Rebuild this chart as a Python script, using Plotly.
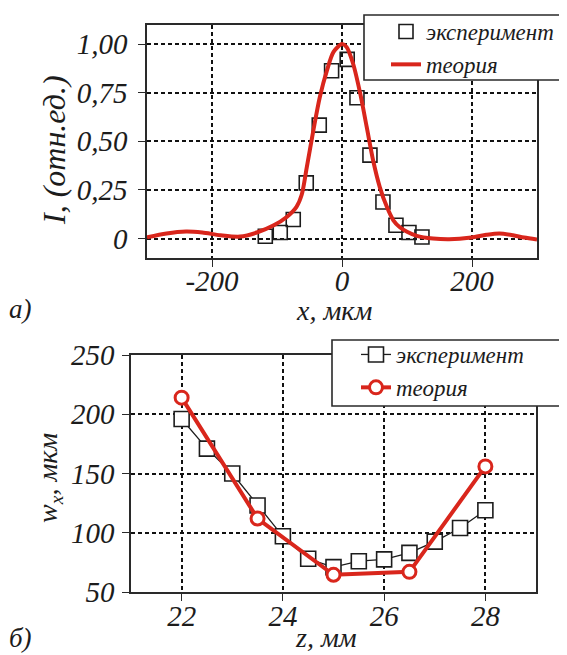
import plotly.graph_objects as go

# ---- panel a) data ----
x_exp = [-118, -95, -75, -55, -35, -16, 8, 23, 43, 63, 83, 103, 123]
i_exp = [0.012, 0.031, 0.098, 0.286, 0.583, 0.863, 0.921, 0.724, 0.429, 0.188, 0.068, 0.031, 0.008]

x_th = [-300, -270, -240, -215, -187, -157, -131, -105, -85, -70, -62, -54, -44, -34, -23,
        -13, 0, 7, 17, 28, 38, 48, 58, 69, 79, 89, 100, 115, 140, 165, 199, 222, 242, 263, 280, 300]
i_th = [0.006, 0.026, 0.036, 0.031, 0.017, 0.010, 0.031, 0.068, 0.111, 0.163, 0.225, 0.37, 0.557,
        0.729, 0.866, 0.96, 1.0, 0.985, 0.90, 0.746, 0.574, 0.40, 0.266, 0.163, 0.094, 0.058,
        0.035, 0.014, 0.0, -0.004, 0.005, 0.019, 0.026, 0.017, 0.005, -0.005]

# ---- panel б) data ----
z_exp = [22, 22.5, 23, 23.5, 24, 24.5, 25, 25.5, 26, 26.5, 27, 27.5, 28]
w_exp = [196, 171, 150, 123, 97, 78, 71, 76, 77.5, 83, 92.5, 104, 119]
z_th = [22, 23.5, 25, 26.5, 28]
w_th = [214, 112, 64.5, 67, 156]

xa_ticks = [-200, 0, 200]
xa_text = ["-200", "0", "200"]
ya_ticks = [0, 0.25, 0.5, 0.75, 1.0]
ya_text = ["0", "0,25", "0,50", "0,75", "1,00"]
xb_ticks = [22, 24, 26, 28]
xb_text = ["22", "24", "26", "28"]
yb_ticks = [50, 100, 150, 200, 250]
yb_text = ["50", "100", "150", "200", "250"]

RED = "#d9261c"
INK = "#1c1c1c"
SERIF = "Liberation Serif, Times New Roman, serif"
W, H = 567, 655
OFF = 8  # page body margin of the saved html


def px(v):
    return (v - OFF) / W


def py(v):
    return 1 - (v - OFF) / H


def ital(lst):
    return ["<i>%s</i>" % s for s in lst]


fig = go.Figure()

fig.add_trace(go.Scatter(
    x=x_exp, y=i_exp, mode="markers", name="эксперимент",
    marker=dict(symbol="square-open", size=14, color=INK, line=dict(width=1.6, color=INK)),
    xaxis="x", yaxis="y", legend="legend"))
fig.add_trace(go.Scatter(
    x=x_th, y=i_th, mode="lines", name="теория",
    line=dict(color=RED, width=4, shape="spline", smoothing=0.8),
    xaxis="x", yaxis="y", legend="legend"))

fig.add_trace(go.Scatter(
    x=z_exp, y=w_exp, mode="lines+markers", name="эксперимент",
    line=dict(color=INK, width=1.3),
    marker=dict(symbol="square", size=15, color="white", line=dict(width=1.6, color=INK)),
    xaxis="x2", yaxis="y2", legend="legend2"))
fig.add_trace(go.Scatter(
    x=z_th, y=w_th, mode="lines+markers", name="теория",
    line=dict(color=RED, width=4),
    marker=dict(symbol="circle", size=13, color="white", line=dict(width=3, color=RED)),
    xaxis="x2", yaxis="y2", legend="legend2"))

tickfont = dict(family=SERIF, size=29, color=INK, style="italic")
common = dict(showline=True, mirror=True, linecolor="#2a2a2a", linewidth=1.6,
              ticks="outside", ticklen=7, tickwidth=1.4, tickcolor="#2a2a2a",
              showgrid=True, gridcolor="#111111", gridwidth=1.5, griddash="4px,3px",
              zeroline=False, tickfont=tickfont, fixedrange=True, automargin=False)

fig.update_layout(
    width=W, height=H,
    margin=dict(l=0, r=0, t=0, b=0, pad=0, autoexpand=False),
    paper_bgcolor="white", plot_bgcolor="white",
    xaxis=dict(domain=[px(147), px(537)], range=[-300, 300], tickvals=xa_ticks,
               ticktext=ital(xa_text), anchor="y", ticklabelstandoff=-11, **common),
    yaxis=dict(domain=[py(258), py(24.6)], range=[-0.1, 1.1], tickvals=ya_ticks,
               ticktext=ital(ya_text), anchor="x", ticklabelstandoff=5, **common),
    xaxis2=dict(domain=[px(131), px(536)], range=[21, 29], tickvals=xb_ticks,
                ticktext=ital(xb_text), anchor="y2", ticklabelstandoff=-10, **common),
    yaxis2=dict(domain=[py(592), py(355)], range=[50, 250], tickvals=yb_ticks,
                ticktext=ital(yb_text), anchor="x2", ticklabelstandoff=2, **common),
    legend=dict(x=px(386), y=py(10), xanchor="left", yanchor="top",
                bgcolor="rgba(0,0,0,0)", borderwidth=0,
                font=dict(family=SERIF, size=23, color=INK, style="italic"),
                tracegroupgap=0),
    legend2=dict(x=px(356), y=py(333), xanchor="left", yanchor="top",
                 bgcolor="rgba(0,0,0,0)", borderwidth=0,
                 font=dict(family=SERIF, size=23, color=INK, style="italic"),
                 tracegroupgap=0),
    showlegend=True,
)

# legend frames
fig.add_shape(type="rect", xref="paper", yref="paper",
              x0=px(364), x1=px(580), y0=py(80), y1=py(15),
              line=dict(color="#2a2a2a", width=1.6), fillcolor="white", layer="above")
fig.add_shape(type="rect", xref="paper", yref="paper",
              x0=px(332), x1=px(580), y0=py(406), y1=py(340),
              line=dict(color="#2a2a2a", width=1.6), fillcolor="white", layer="above")

labfont = dict(family=SERIF, size=28, color=INK, style="italic")
anns = [
    dict(text="x, мкм", x=px(334), y=py(310)),
    dict(text="а)", x=px(20), y=py(309), size=27),
    dict(text="I, (отн.ед.)", x=px(54), y=py(150), textangle=-90, size=32),
    dict(text="z, мм", x=px(326), y=py(637)),
    dict(text="б)", x=px(20), y=py(638), size=27),
    dict(text="w<sub>x</sub>, мкм", x=px(49), y=py(478), textangle=-90, size=28),
]
for a in anns:
    f = dict(labfont)
    if "size" in a:
        f["size"] = a.pop("size")
    fig.add_annotation(xref="paper", yref="paper", showarrow=False,
                       xanchor="center", yanchor="middle", font=f, **a)

fig.write_html("out.html")
